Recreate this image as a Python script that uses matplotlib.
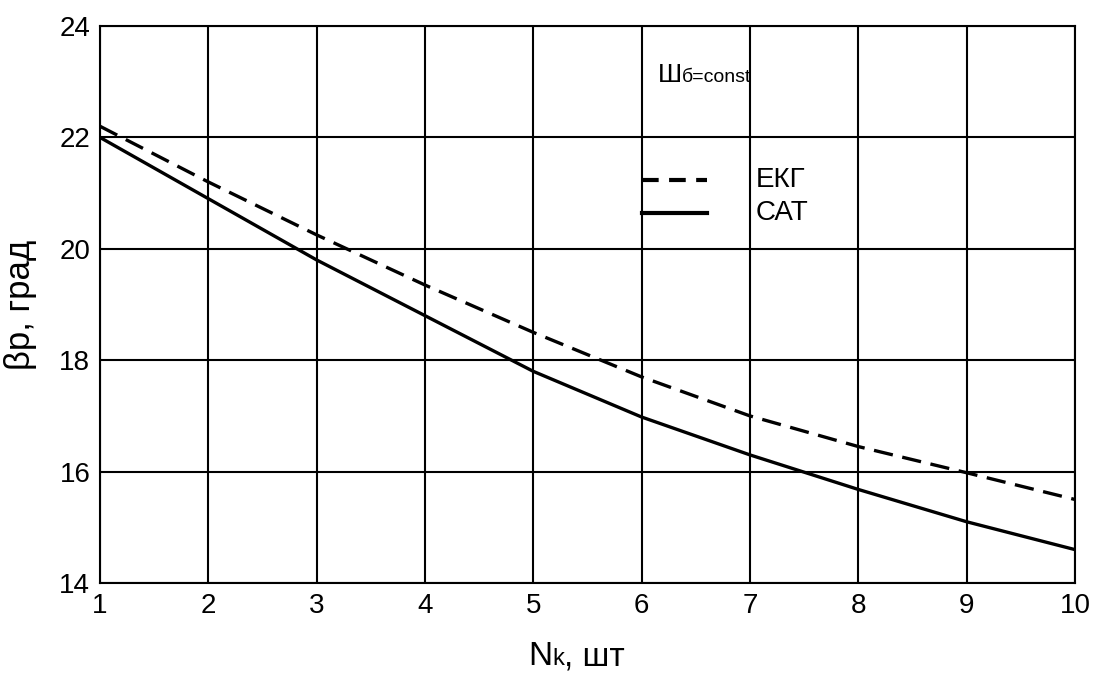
import matplotlib
matplotlib.use("Agg")
import matplotlib.pyplot as plt
from matplotlib.offsetbox import TextArea, HPacker, AnnotationBbox

plt.rcParams["font.family"] = ["Liberation Sans", "DejaVu Sans"]

# кол-во колес и угол
n_k = [1, 2, 3, 4, 5, 6, 7, 8, 9, 10]
ekg = [22.2, 21.2, 20.25, 19.35, 18.5, 17.7, 17.0, 16.45, 15.98, 15.5]
sat = [22.0, 20.9, 19.8, 18.8, 17.8, 16.98, 16.3, 15.68, 15.1, 14.6]

fig = plt.figure(figsize=(10.94, 6.77), dpi=100)
ax = fig.add_axes([0.0914, 0.1388, 0.8912, 0.8228])

ax.plot(n_k, ekg, color="black", lw=2.4, dashes=(5.8, 2.9))
ax.plot(n_k, sat, color="black", lw=2.4)

ax.set_xlim(1, 10)
ax.set_ylim(14, 24)
ax.set_xticks(range(1, 11))
ax.set_yticks(range(14, 25, 2))
ax.grid(True, color="black", lw=1.5)
for s in ax.spines.values():
    s.set_linewidth(1.5)
ax.tick_params(length=0, labelsize=20, pad=7)
ax.set_ylabel("βр, град", fontsize=25, labelpad=16)

# легенда вручную
ax.plot([6.0, 6.6], [21.24, 21.24], color="black", lw=3, dashes=(4, 2.5))
ax.plot([6.0, 6.6], [20.64, 20.64], color="black", lw=3)
ax.text(7.05, 21.24, "ЕКГ", fontsize=20, va="center")
ax.text(7.05, 20.64, "САТ", fontsize=20, va="center")


def mixed(parts):
    boxes = [TextArea(t, textprops=dict(fontsize=fs)) for t, fs in parts]
    return HPacker(children=boxes, align="baseline", pad=0, sep=0)


ab = AnnotationBbox(mixed([("Ш", 19), ("б=const", 14)]), (6.15, 23.12),
                    xycoords="data", frameon=False, box_alignment=(0, 0.5))
ax.add_artist(ab)

xl = AnnotationBbox(mixed([("N", 24), ("k", 17), (", шт", 24)]), (0.527, 0.03),
                    xycoords="figure fraction", frameon=False,
                    box_alignment=(0.5, 0.5))
fig.add_artist(xl)

fig.savefig("out.png", dpi=100)
